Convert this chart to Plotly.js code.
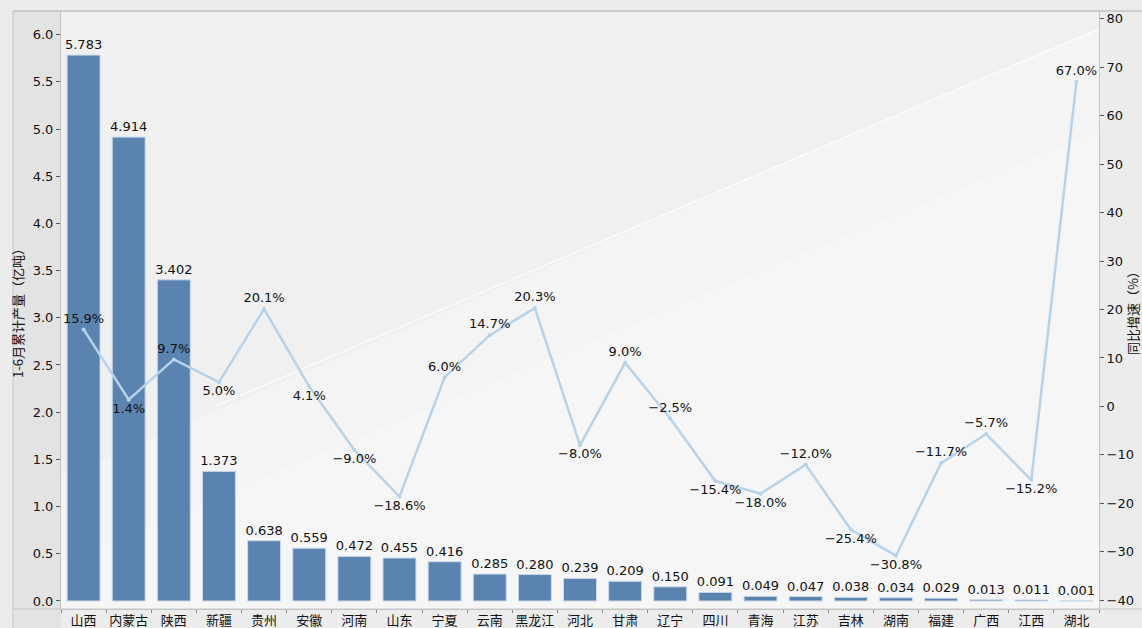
<!DOCTYPE html>
<html>
<head>
<meta charset="utf-8">
<script src="https://cdn.plot.ly/plotly-3.0.1.min.js"></script>
<style>html,body{margin:0;padding:0;background:#ececec;}#chart{width:1142px;height:628px;}</style>
</head>
<body>
<div id="chart"></div>
<script>
const provinces = ['山西','内蒙古','陕西','新疆','贵州','安徽','河南','山东','宁夏','云南','黑龙江','河北','甘肃','辽宁','四川','青海','江苏','吉林','湖南','福建','广西','江西','湖北'];
const output = [5.783,4.914,3.402,1.373,0.638,0.559,0.472,0.455,0.416,0.285,0.280,0.239,0.209,0.150,0.091,0.049,0.047,0.038,0.034,0.029,0.013,0.011,0.001];
const growth = [15.9,1.4,9.7,5.0,20.1,4.1,-9.0,-18.6,6.0,14.7,20.3,-8.0,9.0,-2.5,-15.4,-18.0,-12.0,-25.4,-30.8,-11.7,-5.7,-15.2,67.0];
const growthLabelPos = ['top center','bottom center','top center','bottom center','top center','bottom center','bottom center','bottom center','top center','top center','top center','bottom center','top center','top center','bottom center','bottom center','top center','bottom center','bottom center','top center','top center','bottom center','top center'];

const FONT = 'DejaVu Sans, "Noto Sans CJK SC", sans-serif';

const barTrace = {
  type: 'bar', x: provinces, y: output, yaxis: 'y',
  marker: {color: '#5b83b0', line: {color: '#c9d9ea', width: 1}},
  text: output.map(v => v.toFixed(3)), textposition: 'outside', cliponaxis: false, constraintext: 'none',
  textfont: {family: FONT, size: 13, color: '#111'},
  hoverinfo: 'x+y'
};
const lineTrace = {
  type: 'scatter', mode: 'lines+markers+text', x: provinces, y: growth, yaxis: 'y2',
  line: {color: '#b7d3ea', width: 2.5}, marker: {color: '#b7d3ea', size: 4},
  text: growth.map(v => v.toFixed(1).replace('-', '\u2212') + '%'), textposition: growthLabelPos, cliponaxis: false,
  textfont: {family: FONT, size: 13, color: '#111'}
};

const shapes = [
  {type:'rect', xref:'paper', yref:'paper', x0:-0.0462, x1:0, y0:-0.032, y1:1, fillcolor:'#e3e3e3', line:{width:0}, layer:'below'},
  {type:'path', xref:'paper', yref:'paper', path:'M 0 0 L 0 0.22 L 1 0.97 L 1 0 Z', fillcolor:'rgba(255,255,255,0.28)', line:{width:0}, layer:'below'},
  {type:'path', xref:'paper', yref:'paper', path:'M 0 0 L 0 0.08 L 1 0.80 L 1 0 Z', fillcolor:'rgba(255,255,255,0.18)', line:{width:0}, layer:'below'},
  {type:'line', xref:'paper', yref:'paper', x0:0.15, y0:0.34, x1:1, y1:0.97, line:{color:'rgba(255,255,255,0.8)', width:1.5}, layer:'below'},
  {type:'line', xref:'paper', yref:'paper', x0:-0.0462, x1:-0.0462, y0:-0.032, y1:1, line:{color:'#c4c4c4', width:1}},
  {type:'line', xref:'paper', yref:'paper', x0:-0.0462, x1:1.042, y0:1, y1:1, line:{color:'#c4c4c4', width:1.5}},
  {type:'line', xref:'paper', yref:'paper', x0:-0.0462, x1:1.042, y0:0, y1:0, line:{color:'#c4c4c4', width:1}}
];

const layout = {
  width: 1142, height: 628,
  margin: {l: 61, r: 43, t: 11, b: 19},
  paper_bgcolor: '#ececec', plot_bgcolor: '#f0f0f0',
  showlegend: false, bargap: 0.27,
  font: {family: FONT, size: 13, color: '#111'},
  xaxis: {type: 'category', range: [-0.5, 22.5], showgrid: false, ticks: 'outside', tickson: 'boundaries', ticklen: 3, tickcolor: '#888', showline: true, linecolor: '#c4c4c4', tickangle: 0, automargin: false, ticklabelstandoff: -1, tickfont: {family: '"Noto Sans CJK SC", sans-serif', size: 13}, zeroline: false},
  yaxis: {range: [-0.085, 6.25], dtick: 0.5, tickformat: '.1f', showgrid: false, zeroline: false, ticks: 'outside', ticklen: 4, tickcolor: '#555', showline: true, linecolor: '#c4c4c4', tickfont: {size: 13}, automargin: false,
    title: {text: '1-6月累计产量（亿吨）', font: {family: '"Noto Sans CJK SC", sans-serif', size: 13}, standoff: 6}},
  yaxis2: {overlaying: 'y', side: 'right', range: [-41.8, 81.6], dtick: 10, showgrid: false, zeroline: false, ticks: 'outside', ticklen: 4, tickcolor: '#555', showline: true, linecolor: '#c4c4c4', tickfont: {size: 13}, automargin: false,
    title: {text: '同比增速（%）', font: {family: '"Noto Sans CJK SC", sans-serif', size: 13}, standoff: 10}},
  shapes: shapes
};

Plotly.newPlot('chart', [barTrace, lineTrace], layout, {displayModeBar: false, staticPlot: true});
</script>
</body>
</html>
